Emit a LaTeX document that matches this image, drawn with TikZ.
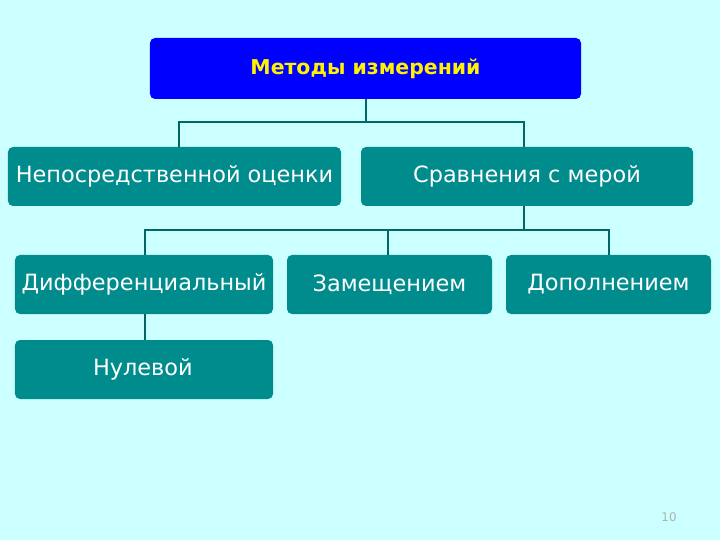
\documentclass[tikz,border=0pt]{standalone}
\usepackage{fontspec}
\setmainfont{DejaVu Sans}
\begin{document}
\begin{tikzpicture}[x=1bp,y=-1bp,
  tbox/.style={draw=none, rounded corners=5bp, text=white, inner sep=0pt, font=\fontsize{22.5}{26}\selectfont},
  conn/.style={draw=teal!80!black, line width=1.6bp}]
\definecolor{bg}{RGB}{204,255,255}
\definecolor{tl}{RGB}{0,140,140}
\fill[bg] (0,0) rectangle (720,540);
\useasboundingbox (0,0) rectangle (720,540);
\tikzset{tbox/.append style={fill=tl}}
\node[fill=blue, rounded corners=5bp, minimum width=431bp, minimum height=61bp, inner sep=0pt, text=yellow, font=\bfseries\fontsize{20.5}{24}\selectfont] (top) at (365.5,68.5) {Методы измерений};
\node[tbox, minimum width=333bp, minimum height=59bp] (a) at (174.5,176.5) {Непосредственной оценки};
\node[tbox, minimum width=332bp, minimum height=59bp] (b) at (527,176.5) {Сравнения с мерой};
\node[tbox, minimum width=258bp, minimum height=59bp] (c) at (144,284.5) {Дифференциальный};
\node[tbox, minimum width=205bp, minimum height=59bp] (d) at (389.5,284.5) {Замещением};
\node[tbox, minimum width=205bp, minimum height=59bp] (e) at (608.5,284.5) {Дополнением};
\node[tbox, minimum width=258bp, minimum height=59bp, text width=258bp, align=left] (f) at (144,369.5) {\hspace*{78bp}Нулевой};
\node[text=gray!60, font=\fontsize{12}{14}\selectfont] (pg) at (669,517) {10};
\coordinate (j1) at (366,122);
\coordinate (j2) at (524,230);
\draw[conn] (top.south -| j1) -- (j1) -| (a.north -| 179,0);
\draw[conn] (j1) -| (b.north -| 524,0);
\draw[conn] (b.south -| j2) -- (j2) -| (c.north -| 145,0);
\draw[conn] (j2) -| (d.north -| 388,0);
\draw[conn] (j2) -| (e.north -| 609,0);
\draw[conn] (c.south -| 145,0) -- (f.north -| 145,0);
\end{tikzpicture}
\end{document}
